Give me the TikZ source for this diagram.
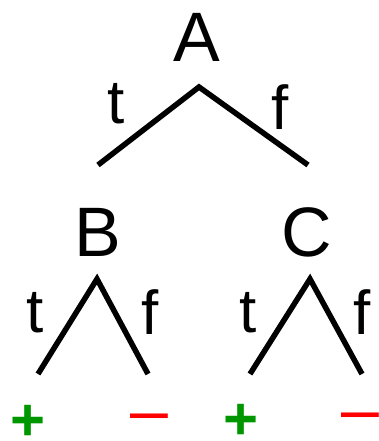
\documentclass[tikz,border=0pt]{standalone}
\usepackage{fontspec}
\setmainfont{Liberation Sans}
\usepackage{xcolor}
\definecolor{posgreen}{RGB}{0,150,0}
\definecolor{negred}{RGB}{255,0,0}

\tikzset{
  var/.style={inner sep=0pt, font=\fontsize{70}{70}\selectfont},
  branch/.style={inner sep=0pt, font=\fontsize{62}{62}\selectfont},
  plusleaf/.style={inner sep=0pt, text=posgreen, font=\bfseries\fontsize{60}{60}\selectfont},
  minusleaf/.style={inner sep=0pt, text=negred, font=\fontsize{68}{68}\selectfont},
  edge/.style={line width=5.5pt}
}

\begin{document}
\begin{tikzpicture}[x=1pt,y=-1pt]

% ukuran gambar
\useasboundingbox (0,0) rectangle (379,441);

% --- akar ---
\node[var] (A) at (197,37) {A};
\coordinate (Atop) at (199,87);
\coordinate (Aleft) at (98,165);
\coordinate (Aright) at (308,165);
\draw[edge] (Aleft) -- (Atop) -- (Aright);
\node[branch] (At) at (116,104) {t};
\node[branch] (Af) at (280,107) {f};

% --- B ---
\node[var] (B) at (98,232) {B};
\coordinate (Btop) at (97,279);
\coordinate (Bleft) at (38,374);
\coordinate (Bright) at (148,374);
\draw[edge] (Bleft) -- (Btop) -- (Bright);
\node[branch] (Bt) at (35,313) {t};
\node[branch] (Bf) at (150,312) {f};

% --- C ---
\node[var] (C) at (307,232) {C};
\coordinate (Ctop) at (310,279);
\coordinate (Cleft) at (250,374);
\coordinate (Cright) at (362,374);
\draw[edge] (Cleft) -- (Ctop) -- (Cright);
\node[branch] (Ct) at (248,313) {t};
\node[branch] (Cf) at (362,312) {f};

% --- daun ---
\node[plusleaf] (Bplus) at (28,423) {+};
\node[minusleaf] (Bminus) at (149,424) {–};
\node[plusleaf] (Cplus) at (241,422) {+};
\node[minusleaf] (Cminus) at (360,423) {–};

\end{tikzpicture}
\end{document}
